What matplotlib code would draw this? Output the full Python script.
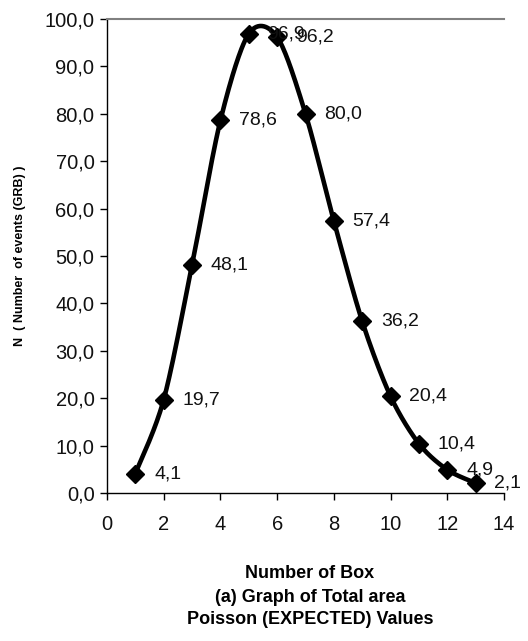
import numpy as np
import matplotlib
matplotlib.use("Agg")
import matplotlib.pyplot as plt
from matplotlib.ticker import FuncFormatter, MultipleLocator

boxes = [1, 2, 3, 4, 5, 6, 7, 8, 9, 10, 11, 12, 13]
expected = [4.1, 19.7, 48.1, 78.6, 96.9, 96.2, 80.0, 57.4, 36.2, 20.4, 10.4, 4.9, 2.1]
xlabel_lines = ["Number of Box", "(a) Graph of Total area", "Poisson (EXPECTED) Values"]
ylabel = "N  ( Number  of events (GRB) )"

plt.rcParams['font.family'] = ['Liberation Sans', 'DejaVu Sans']

fig = plt.figure(figsize=(5.28, 6.41), dpi=100)
ax = fig.add_axes([107 / 528, 148 / 641, 397 / 528, 474 / 641])


def smooth(xs, ys, n=30, tension=0.5):
    xs = np.asarray(xs, float); ys = np.asarray(ys, float)
    px = np.concatenate([[xs[0]], xs, [xs[-1]]])
    py = np.concatenate([[ys[0]], ys, [ys[-1]]])
    outx, outy = [], []
    for i in range(1, len(px) - 2):
        p0 = np.array([px[i-1], py[i-1]]); p1 = np.array([px[i], py[i]])
        p2 = np.array([px[i+1], py[i+1]]); p3 = np.array([px[i+2], py[i+2]])
        c1 = p1 + (p2 - p0) * tension / 3
        c2 = p2 - (p3 - p1) * tension / 3
        t = np.linspace(0, 1, n, endpoint=(i == len(px) - 3))
        b = ((1-t)**3)[:, None]*p1 + (3*(1-t)**2*t)[:, None]*c1 + (3*(1-t)*t**2)[:, None]*c2 + (t**3)[:, None]*p2
        outx.extend(b[:, 0]); outy.extend(b[:, 1])
    return np.array(outx), np.array(outy)

sx, sy = smooth(boxes, expected, tension=0.45)
ax.plot(sx, sy, color='black', lw=3.3, solid_capstyle='round', solid_joinstyle='round', zorder=2,
        clip_on=False)
ax.plot(boxes, expected, linestyle='none', marker='D', color='black', markersize=9.5, zorder=3,
        clip_on=False)

for x, y in zip(boxes, expected):
    ax.annotate(f"{y:.1f}".replace('.', ','), (x, y), xytext=(13.5, 0), textcoords='offset points',
                va='center', ha='left', fontsize=14, color='#111111', annotation_clip=False)

ax.set_xlim(0, 14)
ax.set_ylim(0, 100)
ax.xaxis.set_major_locator(MultipleLocator(2))
ax.yaxis.set_major_locator(MultipleLocator(10))
ax.yaxis.set_major_formatter(FuncFormatter(lambda v, p: f"{v:.1f}".replace('.', ',')))
ax.tick_params(axis='both', direction='out', length=5, width=1, labelsize=14.5,
               labelcolor='#111111')
ax.tick_params(axis='y', pad=4)
ax.tick_params(axis='x', pad=11)
ax.spines['right'].set_visible(False)
ax.spines['top'].set_color('#808080')
ax.spines['top'].set_linewidth(1.5)
ax.spines['left'].set_linewidth(1)
ax.spines['bottom'].set_linewidth(1)

fig.text(20 / 528, 1 - 256 / 641, ylabel, rotation=90, ha='center', va='center',
         fontsize=9, fontweight='bold')

for i, line in enumerate(xlabel_lines):
    fig.text(310 / 528, 1 - (574 + 23 * i) / 641, line, ha='center', va='center',
             fontsize=13, fontweight='bold')

fig.savefig('out.png', dpi=100)
